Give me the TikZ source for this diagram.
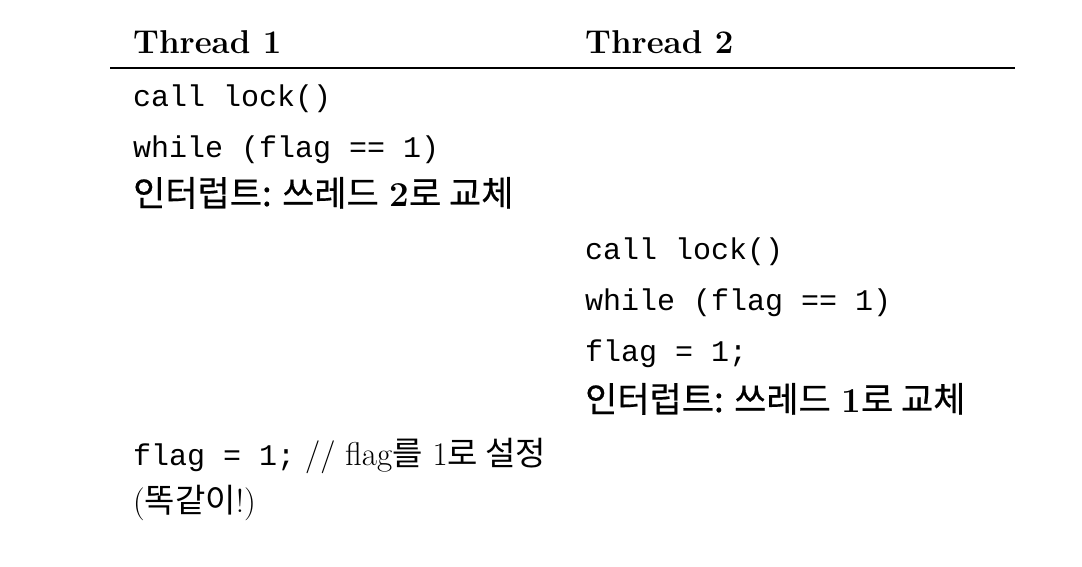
\documentclass[tikz,border=0pt]{standalone}
\usepackage{fontspec}
\setmonofont{Liberation Mono}
\newfontfamily\kor{Noto Sans CJK KR}
\newfontfamily\korb[FakeBold=0.5]{Noto Sans CJK KR}
\newcommand\codefont{\fontsize{30}{34}\selectfont\ttfamily}
\begin{document}
\begin{tikzpicture}[x=1pt,y=-1pt,
  every node/.style={anchor=base west,inner sep=0pt},
  head/.style={font=\fontsize{33}{38}\selectfont\bfseries},
  code/.style={font=\codefont},
  note/.style={font=\fontsize{35}{40}\selectfont},
  plain/.style={font=\fontsize{33}{38}\selectfont}]
\useasboundingbox (0,0) rectangle (1082,566);
% headers
\node[head] (h1) at (133,53) {Thread 1};
\node[head] (h2) at (585,53) {Thread 2};
\draw[line width=1.3pt] (110,68) -- (1015,68);
% thread 1
\node[code] (a1) at (133,106) {call lock()};
\node[code] (a2) at (133,157) {while (flag == 1)};
\node[note] (a3) at (133,206) {{\korb 인터럽트: 쓰레드} \textbf{2}{\korb 로 교체}};
% thread 2
\node[code] (b1) at (585,259) {call lock()};
\node[code] (b2) at (585,310) {while (flag == 1)};
\node[code] (b3) at (585,361) {flag = 1;};
\node[note] (b4) at (585,412) {{\korb 인터럽트: 쓰레드} \textbf{1}{\korb 로 교체}};
% thread 1 again
\node[plain] (a4) at (133,465) {{\codefont flag = 1;} // flag{\kor 를} 1{\kor 로 설정}};
\node[plain] (a5) at (133,512) {({\kor 똑같이}!)};
\end{tikzpicture}
\end{document}
